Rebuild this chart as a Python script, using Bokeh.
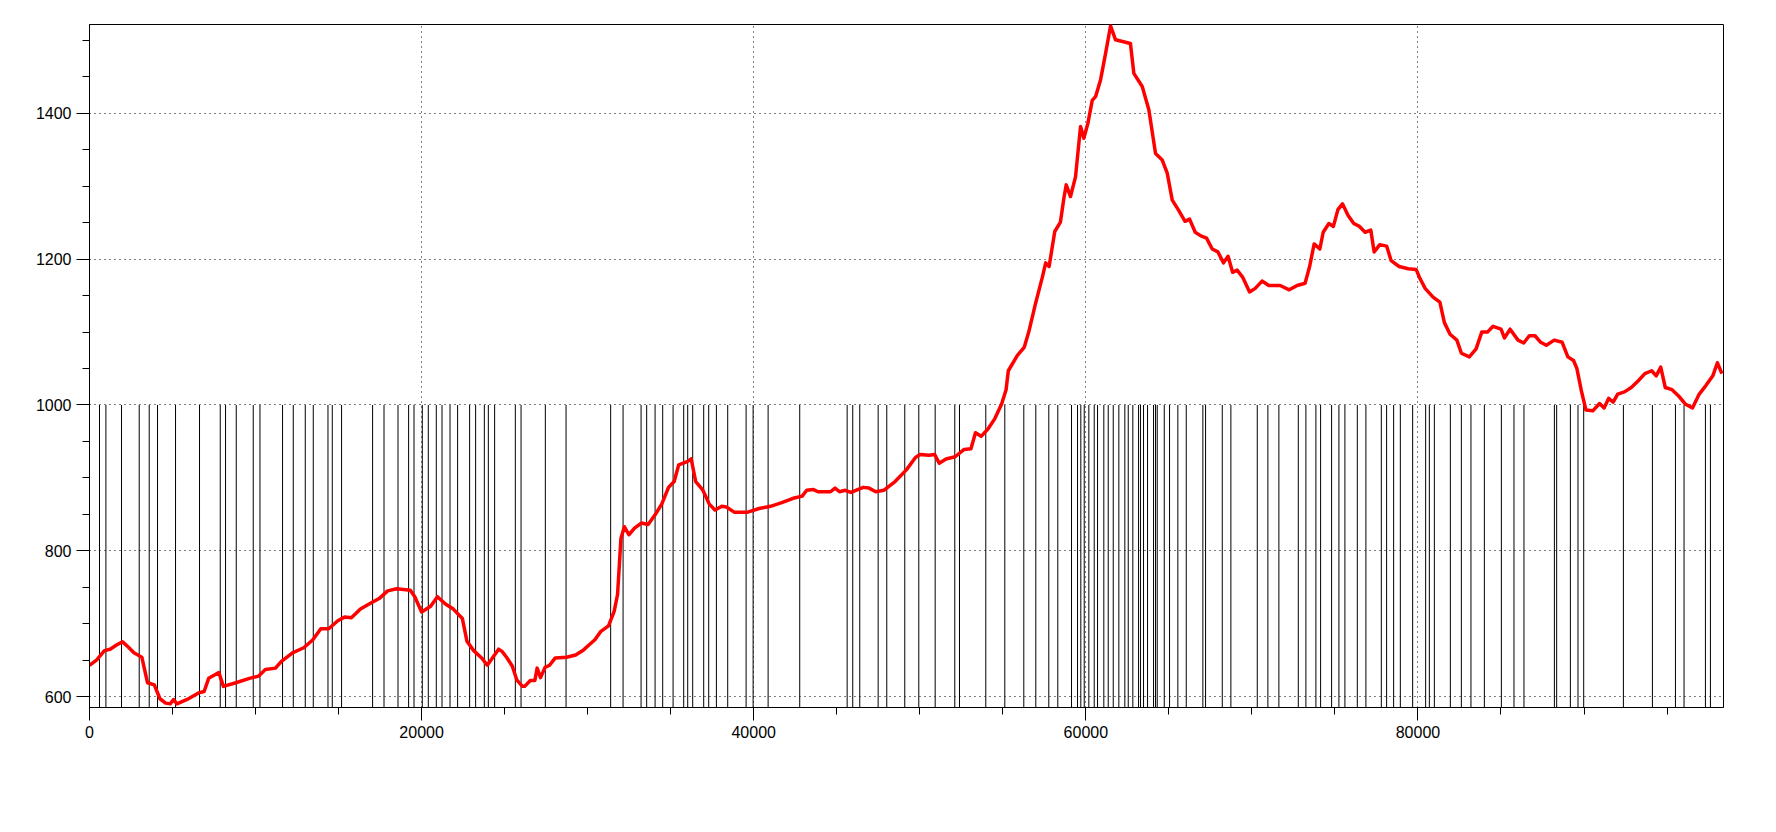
from bokeh.plotting import figure
from bokeh.models import SingleIntervalTicker, Range1d
from bokeh.embed import file_html
from bokeh.resources import INLINE

# --- data -------------------------------------------------------------
profile_x = [0, 423, 900, 1241, 1651, 1992, 2333, 2674, 3151, 3492, 3902, 4243, 4584, 4857,
             5061, 5266, 5880, 6562, 6903, 7176, 7790, 8062, 8813, 9631, 10177, 10586, 11200,
             11541, 12223, 12905, 13451, 13929, 14406, 14952, 15361, 15770, 16316, 16998,
             17475, 17953, 18499, 19317, 19590, 20000, 20545, 20954, 21432, 21909, 22455,
             22728, 23137, 23614, 23955, 24296, 24637, 24842, 25115, 25456, 25729, 26070,
             26206, 26547, 26820, 26957, 27162, 27434, 27707, 28048, 28730, 29276, 29753,
             30094, 30435, 30776, 31254, 31595, 31799, 32004, 32209, 32482, 32823, 33232,
             33641, 34050, 34460, 34869, 35210, 35483, 35960, 36233, 36506, 36915, 37325,
             37666, 38075, 38348, 38825, 39644, 40326, 41008, 41690, 42372, 42918, 43190,
             43600, 43873, 44623, 44896, 45169, 45510, 45851, 46260, 46601, 46942, 47351,
             47829, 48511, 49193, 49739, 50011, 50557, 50898, 51171, 51580, 52127, 52672,
             53081, 53354, 53695, 54104, 54513, 54923, 55196, 55332, 55878, 56287, 56560,
             56969, 57378, 57583, 57788, 58129, 58470, 58673, 58818, 59077, 59378, 59680,
             59878, 60120, 60385, 60584, 60885, 61186, 61487, 61789, 62684, 62891, 63396,
             63794, 64197, 64600, 64902, 65203, 65564, 65973, 66246, 66587, 66928, 67269,
             67610, 67951, 68292, 68565, 68838, 69111, 69452, 69861, 70202, 70611, 71020,
             71702, 72248, 72725, 73203, 73476, 73749, 74090, 74294, 74635, 74908, 75181,
             75454, 75795, 76136, 76477, 76818, 77159, 77363, 77704, 78114, 78386, 78864,
             79410, 79887, 80092, 80433, 80910, 81319, 81592, 81933, 82343, 82615, 83093,
             83502, 83843, 84184, 84525, 85003, 85207, 85548, 86026, 86367, 86708, 87049,
             87390, 87731, 88208, 88686, 89027, 89368, 89572, 89845, 90118, 90527, 90937,
             91209, 91482, 91755, 92028, 92437, 92846, 93255, 93665, 94074, 94347, 94620,
             94893, 95302, 95711, 96120, 96530, 96939, 97348, 97757, 98030, 98303]
profile_y = [643, 650, 663, 665, 671, 675, 668, 660, 654, 619, 616, 597, 591, 590,
             596, 590, 596, 605, 607, 625, 633, 614, 619, 625, 628, 637, 639,
             648, 660, 667, 678, 693, 693, 704, 709, 708, 720, 729,
             735, 745, 748, 746, 737, 716, 724, 737, 727, 720, 707,
             676, 663, 653, 643, 654, 665, 662, 654, 642, 623, 614,
             614, 622, 622, 639, 626, 640, 643, 653, 654, 657, 664,
             671, 678, 689, 697, 717, 740, 817, 833, 822, 831, 838,
             836, 849, 864, 887, 895, 918, 922, 926, 895, 884, 864,
             856, 861, 860, 853, 853, 858, 861, 866, 872, 875, 883,
             884, 881, 881, 886, 881, 883, 880, 884, 887, 886, 881,
             883, 895, 911, 928, 932, 931, 932, 920, 926, 929, 939,
             940, 962, 957, 967, 981, 1001, 1021, 1047, 1068, 1079, 1100,
             1139, 1175, 1195, 1190, 1238, 1251, 1283, 1302, 1286, 1313, 1382,
             1366, 1386, 1418, 1423, 1446, 1482, 1520, 1501, 1496, 1455, 1437,
             1405, 1345, 1336, 1318, 1281, 1268, 1252, 1255, 1237, 1232, 1229,
             1214, 1210, 1195, 1204, 1182, 1185, 1175, 1155, 1160, 1170, 1164,
             1164, 1158, 1164, 1167, 1190, 1221, 1214, 1237, 1249, 1245, 1268,
             1276, 1260, 1249, 1245, 1237, 1240, 1210, 1220, 1218, 1198, 1190,
             1187, 1186, 1175, 1160, 1148, 1141, 1113, 1097, 1089, 1071, 1066,
             1077, 1100, 1100, 1108, 1104, 1092, 1104, 1089, 1085, 1095, 1095,
             1086, 1082, 1089, 1086, 1066, 1061, 1050, 1019, 993, 992, 1002,
             996, 1009, 1004, 1015, 1018, 1024, 1033, 1043, 1047, 1040, 1052,
             1024, 1021, 1012, 1001, 996, 1015, 1027, 1040, 1058, 1043]

marker_x = [602, 988, 1928, 2994, 3596, 4096, 5181, 6626, 7873, 8193, 8837, 9861, 10265,
            11626, 12271, 12994, 13476, 14361, 14620, 15180, 17048, 17735, 18578, 19217,
            19542, 20042, 20403, 20885, 21228, 21711, 22168, 22891, 23253, 23777, 24018,
            24397, 25644, 25988, 27451, 28698, 31385, 32132, 33216, 33554, 34060, 34518,
            35144, 35783, 36024, 36325, 36987, 37289, 37752, 38433, 39541, 39963, 40867,
            42770, 45626, 45963, 46385, 47493, 48012, 49096, 49940, 50927, 52108, 52391,
            53975, 55120, 56264, 56987, 57770, 58312, 59138, 59500, 59698, 59903, 60180,
            60505, 60704, 61083, 61348, 61650, 61987, 62348, 62553, 62830, 63174, 63294,
            63475, 63716, 64077, 64198, 64300, 64722, 65041, 65541, 66047, 67047, 67210,
            68216, 68734, 70324, 70963, 71625, 72794, 73252, 73854, 74137, 74800, 75240,
            75601, 76348, 76866, 77794, 78113, 78535, 78939, 79680, 80463, 80686, 80987,
            81951, 82613, 83192, 83999, 85023, 85782, 86384, 88216, 88354, 89179, 89637,
            89981, 92372, 94119, 95506, 96024, 97312, 97613]
marker_top = 1000

x_min, x_max = 0, 98400
y_min, y_max = 585, 1522

# --- figure -----------------------------------------------------------
p = figure(width=1738, height=788, output_backend="svg", toolbar_location=None,
           x_range=Range1d(x_min, x_max), y_range=Range1d(y_min, y_max),
           min_border_left=89, min_border_right=15, min_border_top=24,
           min_border_bottom=81)
p.background_fill_color = "white"
p.border_fill_color = "white"
p.outline_line_color = "black"
p.outline_line_width = 1

p.xaxis.ticker = SingleIntervalTicker(interval=20000, num_minor_ticks=4)
p.yaxis.ticker = SingleIntervalTicker(interval=200, num_minor_ticks=4)
for ax in (p.xaxis[0], p.yaxis[0]):
    ax.axis_line_color = "black"
    ax.major_tick_line_color = "black"
    ax.minor_tick_line_color = "black"
    ax.major_tick_out = 13
    ax.major_tick_in = 0
    ax.minor_tick_out = 7
    ax.minor_tick_in = 0
    ax.major_label_text_font = "Liberation Sans"
    ax.major_label_text_font_size = "16px"
    ax.major_label_text_color = "black"
    ax.major_label_standoff = 5

for g in (p.xgrid[0], p.ygrid[0]):
    g.grid_line_color = "black"
    g.grid_line_dash = "1 4"
    g.grid_line_width = 1

p.segment(x0=marker_x, y0=[y_min] * len(marker_x), x1=marker_x,
          y1=[marker_top] * len(marker_x), line_color="black", line_width=1)
p.line(profile_x, profile_y, line_color="#FF0000", line_width=3.5, line_join="round")

open("out.html", "w").write(file_html(p, INLINE))
